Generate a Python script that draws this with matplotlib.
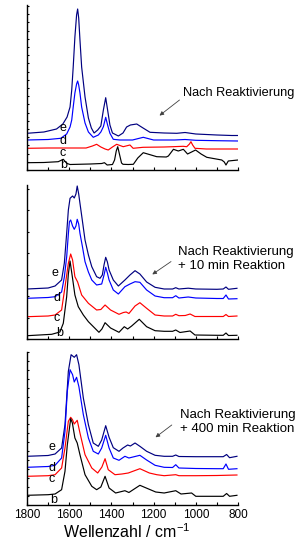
import matplotlib
matplotlib.use("Agg")
import matplotlib.pyplot as plt
import matplotlib.ticker as ticker
from matplotlib.patches import FancyArrowPatch

plt.rcParams['font.family'] = ['Liberation Sans', 'DejaVu Sans']
plt.rcParams['mathtext.default'] = 'regular'

# ---- data (wavenumber in cm-1, intensity in arbitrary units incl. offset) ----
# Panel 1: Nach Reaktivierung
p1_e_wn = [1800, 1720, 1660, 1630, 1610, 1596, 1588, 1581, 1573, 1565, 1560, 1555, 1549, 1541, 1525,
           1509, 1495, 1482, 1465, 1450, 1438, 1427, 1418, 1407, 1395, 1367, 1345, 1328, 1310, 1280,
           1250, 1217, 1150, 1090, 1051, 1000, 900, 830, 800]
p1_e = [36.7, 38, 41, 46, 53, 63, 80, 103, 133, 155, 161, 152, 130, 103, 73,
        52, 42, 37, 40, 44, 60, 72.3, 60, 45, 37, 34, 37, 43, 45, 46,
        42, 37.7, 37, 36.7, 37.5, 36, 35, 34.5, 34.5]
p1_d_wn = [1800, 1700, 1640, 1612, 1596, 1588, 1581, 1573, 1565, 1560, 1555, 1549, 1541, 1525, 1509,
           1486, 1462, 1450, 1438, 1427, 1418, 1407, 1391, 1360, 1300, 1249, 1200, 1100, 1051, 1000,
           900, 800]
p1_d = [30, 30.5, 31.7, 36, 43, 50, 63, 77, 86, 89, 85, 77, 63, 47, 38,
        32.7, 35, 38, 43.3, 52.7, 45, 36.7, 30.7, 30, 30, 32.7, 30, 30, 30.5, 29.7,
        29.3, 29]
p1_c_wn = [1800, 1700, 1600, 1520, 1490, 1470, 1450, 1430, 1415, 1395, 1375, 1344, 1312, 1297, 1250,
           1150, 1108, 1060, 1043, 1030, 1023, 1015, 1004, 950, 800]
p1_c = [21.7, 22, 22, 22, 24, 25.7, 23, 21, 20, 23, 25.7, 23.3, 25, 21.7, 22.7,
        23, 23.3, 23.7, 23.3, 26, 28.3, 25, 21.7, 21, 21]
p1_b_wn = [1800, 1720, 1652, 1628, 1612, 1596, 1500, 1446, 1433, 1420, 1395, 1385, 1377, 1370, 1362,
           1352, 1345, 1320, 1296, 1275, 1249, 1220, 1185, 1140, 1130, 1106, 1083, 1059, 1039, 1020,
           1001, 975, 948, 877, 865, 857, 846, 800]
p1_b = [7.3, 7.5, 8.3, 10.7, 6.7, 5.5, 6, 6.5, 7.3, 5, 5.5, 10, 19, 23.3, 16,
        7, 5.7, 5.5, 5.7, 12, 17.3, 15.5, 13.3, 13, 14, 20.7, 19, 20.7, 16, 18,
        20, 16, 12.7, 10, 8, 5, 9, 10]

# Panel 2: Nach Reaktivierung + 10 min Reaktion
p2_e_wn = [1800, 1700, 1667, 1636, 1623, 1612, 1604, 1596, 1584, 1576, 1568, 1562, 1555, 1549, 1538,
           1525, 1509, 1493, 1470, 1454, 1443, 1435, 1427, 1419, 1411, 1391, 1367, 1336, 1312, 1288,
           1265, 1233, 1193, 1150, 1110, 1095, 1080, 1036, 1000, 900, 870, 857, 845, 805]
p2_e = [50, 51, 53, 59, 76, 105.7, 129, 140.7, 143, 141, 145, 153, 145, 135.7, 119,
        99, 84, 72.3, 62.3, 60.7, 64, 74, 81.7, 77, 69, 59, 53, 59, 64, 68.3,
        65, 57, 51.7, 50, 50, 51.3, 50, 50.8, 50, 49.7, 50, 52, 49.7, 50.7]
p2_d_wn = [1800, 1700, 1667, 1636, 1623, 1612, 1604, 1599, 1593, 1584, 1576, 1568, 1562, 1555, 1549,
           1537, 1525, 1509, 1493, 1470, 1446, 1435, 1427, 1419, 1411, 1391, 1367, 1336, 1312, 1288,
           1265, 1233, 1193, 1150, 1110, 1095, 1080, 1036, 1000, 900, 870, 857, 845, 805]
p2_d = [40.7, 41.5, 42.3, 47, 62, 82, 105, 117.3, 119, 113, 109.7, 113, 119.7, 115, 105.7,
        92, 77.3, 67, 59, 54, 55, 64, 71.7, 66, 59, 49, 45, 52.3, 55, 57.3,
        56.7, 49, 43, 41.3, 41.3, 43.3, 41, 42, 41, 40.5, 40.5, 44, 40, 40.3]
p2_c_wn = [1800, 1700, 1667, 1636, 1620, 1604, 1593, 1584, 1573, 1560, 1541, 1509, 1470, 1450, 1430,
           1404, 1364, 1343, 1330, 1317, 1288, 1265, 1233, 1193, 1150, 1110, 1095, 1080, 1050, 1027,
           1004, 900, 870, 857, 845, 805]
p2_c = [22.3, 23, 24, 29, 52, 75.7, 85, 79, 62.3, 57, 44, 35.7, 29, 29.5, 34,
        29, 24.7, 26.5, 27, 25.5, 33, 36.3, 30.7, 24, 23, 23, 24.7, 23.3, 23.5, 25,
        22.5, 22.5, 22.5, 24.5, 22.5, 23]
p2_b_wn = [1800, 1683, 1644, 1628, 1612, 1604, 1596, 1585, 1573, 1557, 1533, 1509, 1459, 1445, 1430,
           1404, 1364, 1339, 1323, 1304, 1268, 1233, 1193, 1150, 1110, 1095, 1075, 1027, 1004, 900,
           870, 857, 845, 805]
p2_b = [3.3, 4.7, 7, 15.7, 42.3, 65, 78, 62, 44, 32.3, 24, 17.3, 6.7, 10, 16.3,
        11, 6.7, 12.3, 10, 13, 19.7, 12.3, 8.3, 7.7, 7.7, 9, 6.5, 8, 4, 3.7,
        3.7, 6, 3.5, 3.7]

# Panel 3: Nach Reaktivierung + 400 min Reaktion
p3_e_wn = [1800, 1700, 1667, 1636, 1620, 1604, 1591, 1576, 1565, 1554, 1533, 1509, 1486, 1462, 1446,
           1427, 1411, 1391, 1364, 1345, 1323, 1310, 1288, 1265, 1233, 1193, 1150, 1110, 1095, 1080,
           1000, 900, 870, 854, 840, 805]
p3_e = [48.7, 49.5, 51, 57, 80.3, 133.7, 150.3, 147.7, 150.3, 140.3, 107, 80.3, 62, 58.7, 65,
        79.3, 67.7, 57.3, 53.7, 57, 60, 59, 62, 58.7, 53.7, 49.7, 48.7, 48.7, 50, 48.5,
        48.3, 48.3, 48.3, 50.5, 47.3, 48.7]
p3_d_wn = [1800, 1700, 1667, 1636, 1620, 1609, 1596, 1584, 1576, 1565, 1554, 1533, 1509, 1486, 1462,
           1446, 1427, 1411, 1391, 1364, 1336, 1317, 1265, 1233, 1193, 1150, 1110, 1095, 1080, 1000,
           900, 870, 857, 845, 805]
p3_d = [37.7, 38.5, 39.7, 47, 73.7, 113.7, 135.3, 130.3, 123, 127.7, 118.3, 90.3, 67, 53.7, 51,
        57, 69.7, 57, 47, 44.7, 48.7, 47, 49.7, 45, 39.7, 37.7, 37.5, 40.3, 37, 36.5,
        36.3, 36.3, 41, 35.7, 36.3]
p3_c_wn = [1800, 1700, 1667, 1636, 1620, 1604, 1593, 1585, 1576, 1562, 1549, 1525, 1493, 1465, 1445,
           1430, 1415, 1383, 1350, 1320, 1265, 1220, 1185, 1150, 1095, 1080, 1000, 900, 805]
p3_c = [28.7, 29.3, 30.3, 37, 57, 83.7, 87.7, 85.5, 81, 84.7, 72, 50.3, 37, 32, 38,
        46.3, 35.3, 30.3, 31, 32, 36.3, 32, 30.3, 29.3, 30.3, 29.3, 29.3, 29.5, 30]
p3_b_wn = [1800, 1700, 1667, 1636, 1620, 1609, 1593, 1585, 1573, 1562, 1549, 1525, 1493, 1470, 1450,
           1430, 1411, 1380, 1336, 1317, 1265, 1227, 1190, 1150, 1095, 1070, 1020, 1000, 900, 870,
           854, 840, 805]
p3_b = [9.7, 10.3, 11, 15.3, 33.7, 60, 86.3, 82, 67, 62, 50.3, 30.3, 18.7, 15.3, 18,
        28.7, 17, 12, 14.3, 12.5, 19.7, 16.3, 13, 12, 14.3, 11, 12, 8.7, 8.7, 8.7,
        11.5, 8.7, 9.7]

curve_names = ['e', 'd', 'c', 'b']
curve_colors = ['#000080', '#0000ff', '#ff0000', '#000000']
panel_notes = ["Nach Reaktivierung",
               "Nach Reaktivierung\n+ 10 min Reaktion",
               "Nach Reaktivierung\n+ 400 min Reaktion"]

panels = [
    [(p1_e_wn, p1_e), (p1_d_wn, p1_d), (p1_c_wn, p1_c), (p1_b_wn, p1_b)],
    [(p2_e_wn, p2_e), (p2_d_wn, p2_d), (p2_c_wn, p2_c), (p2_b_wn, p2_b)],
    [(p3_e_wn, p3_e), (p3_d_wn, p3_d), (p3_c_wn, p3_c), (p3_b_wn, p3_b)],
]

W, H = 299, 540


def fpx(x, y):
    # figure pixel (from top-left) -> figure fraction
    return x / W, 1 - y / H


fig = plt.figure(figsize=(W / 100, H / 100), dpi=100)

# axes boxes in pixels: (top, bottom)
boxes = [(5, 170), (185, 339), (352, 505)]
ytick_step = [8.2, 21.5, 9.0]
letter_pos = [
    [(1629, 42), (1629, 29), (1629, 17), (1625, 5)],
    [(1667, 65.7), (1659, 40.7), (1659, 20.7), (1644, 5.7)],
    [(1683, 58.3), (1683, 36.7), (1683, 25.7), (1672, 5)],
]
note_xy = [(183, 92.7), (178, 259.3), (180, 422)]
note_size = [9.2, 9.5, 9.5]
arrow_xy = [((181.7, 98.3), (157.3, 117.3)),
            ((173.3, 260), (150, 276)),
            ((174, 423.3), (153.3, 439))]

for i, (top, bot) in enumerate(boxes):
    ax = fig.add_axes([27 / W, 1 - bot / H, 211 / W, (bot - top) / H])
    for (wn, val), col in zip(panels[i], curve_colors):
        ax.plot(wn, val, color=col, lw=0.85)
    for name, (lx, ly) in zip(curve_names, letter_pos[i]):
        ax.text(lx, ly, name, fontsize=9, ha='center', va='center')
    ax.set_xlim(1800, 800)
    ax.set_ylim(0, bot - top)
    ax.spines['top'].set_visible(False)
    ax.spines['right'].set_visible(False)
    ax.spines['left'].set_linewidth(1.0)
    ax.spines['bottom'].set_linewidth(1.0)
    ax.xaxis.set_major_locator(ticker.MultipleLocator(200))
    ax.xaxis.set_minor_locator(ticker.MultipleLocator(100))
    ax.yaxis.set_major_locator(ticker.MultipleLocator(ytick_step[i]))
    ax.tick_params(axis='x', which='both', direction='in', length=2.5, width=0.8, labelsize=8.5, pad=3)
    ax.tick_params(axis='y', which='both', direction='in', length=1.6, width=0.8, labelleft=False)
    if i < 2:
        ax.tick_params(axis='x', labelbottom=False)

    tx, ty = fpx(*note_xy[i])
    fig.text(tx, ty, panel_notes[i], fontsize=note_size[i], ha='left', va='center', linespacing=1.25)
    (ax0, ay0), (ax1, ay1) = arrow_xy[i]
    arr = FancyArrowPatch(fpx(ax0, ay0), fpx(ax1, ay1), transform=fig.transFigure,
                          arrowstyle='-|>', mutation_scale=6, lw=0.6, color='#404040')
    fig.add_artist(arr)

lx, ly = fpx(126.7, 532)
fig.text(lx, ly, 'Wellenzahl / cm$^{-1}$', fontsize=11.5, ha='center', va='center')

fig.savefig('out.png', dpi=100)
